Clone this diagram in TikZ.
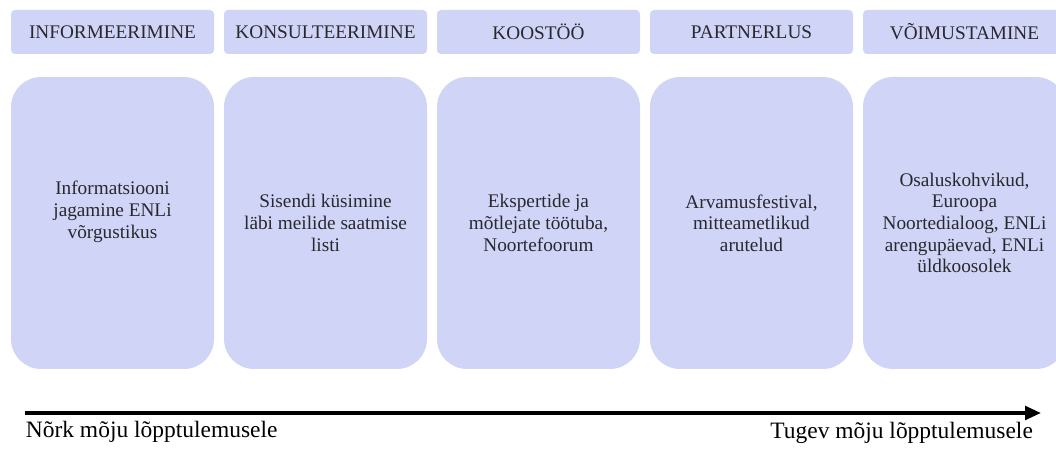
\documentclass[tikz,border=0pt]{standalone}
\usepackage{fontspec}
\setmainfont{Liberation Serif}
\usepackage{tikz}
\usetikzlibrary{arrows.meta}
\definecolor{boxblue}{RGB}{208,213,247}
\definecolor{inkgray}{RGB}{40,40,46}

\begin{document}
\begin{tikzpicture}
\tikzset{headbox/.style={fill=boxblue, rounded corners=0.1cm, minimum width=5.075cm, minimum height=1.1cm, inner sep=0pt, text=inkgray, font=\fontsize{13.7}{15.4}\selectfont},
  bodybox/.style={fill=boxblue, rounded corners=0.75cm, minimum width=5.075cm, minimum height=7.3cm, inner sep=0pt},
  bodytext/.style={align=center, text=inkgray, inner sep=0pt, font=\fontsize{13.7}{15.4}\selectfont},
  endlabel/.style={inner sep=0pt, text=black, font=\fontsize{16.7}{19}\selectfont}}
\clip (0,0) rectangle (26.4,11.35);
% kaasamise tasemed
\node[headbox] (h1) at (2.8125,10.55) {INFORMEERIMINE};
\node[headbox] (h2) at (8.1375,10.55) {KONSULTEERIMINE};
\node[headbox] (h3) at (13.4625,10.55) {KOOSTÖÖ};
\node[headbox] (h4) at (18.7875,10.55) {PARTNERLUS};
\node[headbox] (h5) at (24.1125,10.55) {VÕIMUSTAMINE};
% näited
\node[bodybox] (b1) at (2.8125,5.775) {};
\node[bodybox] (b2) at (8.1375,5.775) {};
\node[bodybox] (b3) at (13.4625,5.775) {};
\node[bodybox] (b4) at (18.7875,5.775) {};
\node[bodybox] (b5) at (24.1125,5.775) {};
\node[bodytext] (t1) at ([yshift=0.28cm]b1.center) {Informatsiooni\\jagamine ENLi\\võrgustikus};
\node[bodytext] (t2) at (b2.center) {Sisendi küsimine\\läbi meilide saatmise\\listi};
\node[bodytext] (t3) at (b3.center) {Ekspertide ja\\mõtlejate töötuba,\\Noortefoorum};
\node[bodytext] (t4) at (b4.center) {Arvamusfestival,\\mitteametlikud\\arutelud};
\node[bodytext] (t5) at (b5.center) {Osaluskohvikud,\\Euroopa\\Noortedialoog, ENLi\\arengupäevad, ENLi\\üldkoosolek};
% mõju telg
\coordinate (weakend) at (0.625,1.025);
\coordinate (strongend) at (26.03,1.025);
\draw[line width=3.4pt, -{Triangle[length=0.4cm,width=0.33cm]}] (weakend) -- (strongend);
\node[endlabel, anchor=base west] (weak) at (0.64,0.4) {Nõrk mõju lõpptulemusele};
\node[endlabel, anchor=base east] (strong) at (25.83,0.38) {Tugev mõju lõpptulemusele};
\end{tikzpicture}
\end{document}
